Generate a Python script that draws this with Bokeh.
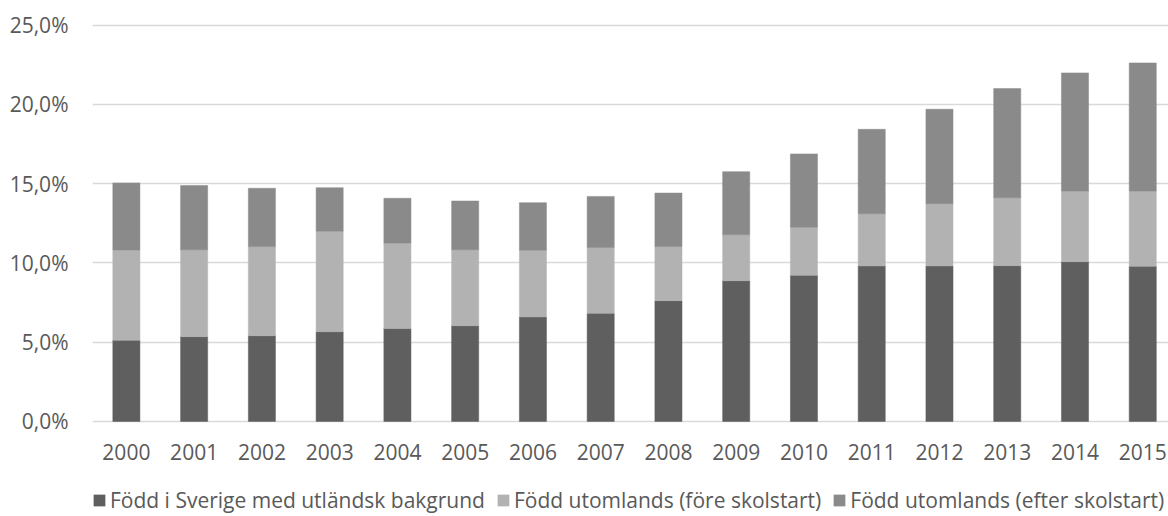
from bokeh.plotting import figure
from bokeh.models import ColumnDataSource, FixedTicker, Range1d, Legend, LegendItem
from bokeh.core.properties import value
from bokeh.embed import file_html
from bokeh.resources import INLINE

# Share of pupils (%) per year, stacked by background group
years = ["2000", "2001", "2002", "2003", "2004", "2005", "2006", "2007",
         "2008", "2009", "2010", "2011", "2012", "2013", "2014", "2015"]
fodd_sverige = [5.13, 5.35, 5.41, 5.66, 5.87, 6.04, 6.59, 6.82,
                7.62, 8.88, 9.22, 9.81, 9.81, 9.83, 10.08, 9.79]
fore_skolstart = [5.69, 5.49, 5.62, 6.34, 5.39, 4.80, 4.21, 4.16,
                  3.41, 2.90, 3.03, 3.30, 3.93, 4.29, 4.46, 4.75]
efter_skolstart = [4.23, 4.04, 3.68, 2.75, 2.82, 3.07, 3.00, 3.22,
                   3.38, 3.98, 4.63, 5.32, 5.96, 6.88, 7.45, 8.08]
series_names = ["Född i Sverige med utländsk bakgrund",
                "Född utomlands (före skolstart)",
                "Född utomlands (efter skolstart)"]
y_ticks = [0, 5, 10, 15, 20, 25]
y_tick_labels = ["0,0%", "5,0%", "10,0%", "15,0%", "20,0%", "25,0%"]

colors = ["#5f5f5f", "#b2b2b2", "#8a8a8a"]
font = "Open Sans"
text_color = "#595959"

# vertical scale: 0..25 % spans 396 px; the frame runs down to the bottom
# edge so the year labels and the legend sit inside it
px_per_pct = 396 / 25
y_top = 25 + 4.7 / px_per_pct
y_bottom = -95 / px_per_pct

x = list(range(len(years)))
source = ColumnDataSource(dict(x=x, s1=fodd_sverige, s2=fore_skolstart, s3=efter_skolstart))
labels = ColumnDataSource(dict(x=x, y=[0] * len(years), year=years))

p = figure(frame_width=1076, frame_height=496,
           x_range=Range1d(-0.5, 15.38), y_range=Range1d(y_bottom, y_top),
           x_axis_location=None,
           output_backend="svg", toolbar_location=None,
           min_border_left=92, min_border_right=0, min_border_top=20,
           min_border_bottom=0)
p.outline_line_color = None
p.background_fill_color = "white"
p.border_fill_color = "white"

renderers = p.vbar_stack(["s1", "s2", "s3"], x="x", width=0.4, source=source,
                         color=colors, line_color=colors, line_width=0.5)

p.text(x="x", y="y", text="year", source=labels, y_offset=31,
       text_align="center", text_baseline="middle",
       text_font=value(font), text_font_size="21px", text_color=text_color)

p.xgrid.grid_line_color = None
p.ygrid.grid_line_color = "#d9d9d9"
p.ygrid.grid_line_width = 1.5
p.ygrid.ticker = FixedTicker(ticks=y_ticks)

p.yaxis.ticker = FixedTicker(ticks=y_ticks)
p.yaxis.major_label_overrides = {t: l for t, l in zip(y_ticks, y_tick_labels)}
p.yaxis.axis_line_color = None
p.yaxis.major_tick_line_color = None
p.yaxis.minor_tick_line_color = None
p.yaxis.major_label_text_font = font
p.yaxis.major_label_text_font_size = "21px"
p.yaxis.major_label_text_color = text_color
p.yaxis.major_label_standoff = 18

legend = Legend(items=[LegendItem(label=n, renderers=[r]) for n, r in zip(series_names, renderers)],
                orientation="horizontal", location=(0, 2),
                label_text_font=font, label_text_font_size="21px",
                label_text_color=text_color, glyph_width=14, glyph_height=14,
                label_standoff=4, spacing=11, border_line_color=None,
                background_fill_alpha=0, padding=3, margin=0)
p.add_layout(legend, "center")

open("out.html", "w").write(file_html(p, INLINE))
